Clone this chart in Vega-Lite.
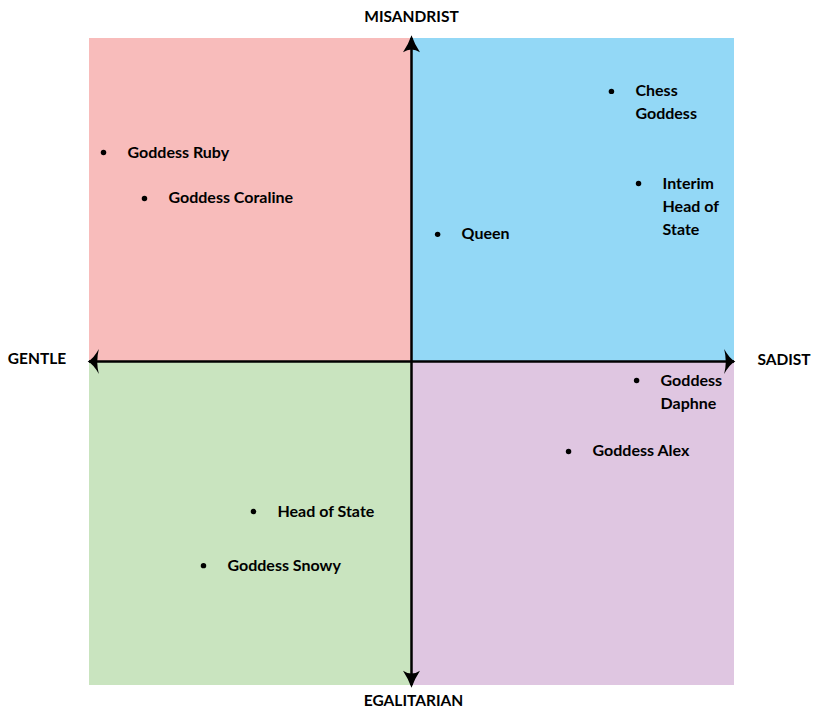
{
  "$schema": "https://vega.github.io/schema/vega-lite/v6.json",
  "width": 645,
  "height": 647,
  "autosize": "none",
  "padding": {"left": 89, "top": 38, "right": 89, "bottom": 32},
  "background": "white",
  "config": {"view": {"stroke": null}},
  "datasets": {
    "quadrants": [
      {"q": "misandrist-gentle", "x": -10, "x2": 0, "y": 0, "y2": 10},
      {"q": "misandrist-sadist", "x": 0, "x2": 10, "y": 0, "y2": 10},
      {"q": "egalitarian-gentle", "x": -10, "x2": 0, "y": -10, "y2": 0},
      {"q": "egalitarian-sadist", "x": 0, "x2": 10, "y": -10, "y2": 0}
    ],
    "axes": [
      {"x": -10, "x2": 10, "y": 0, "y2": 0},
      {"x": 0, "x2": 0, "y": -10, "y2": 10}
    ],
    "arrows": [
      {"dir": "up", "x": 0, "y": 10},
      {"dir": "down", "x": 0, "y": -10},
      {"dir": "left", "x": -10, "y": 0},
      {"dir": "right", "x": 10, "y": 0}
    ],
    "people": [
      {"label": ["Goddess Ruby"], "x": -9.55, "y": 6.46},
      {"label": ["Goddess Coraline"], "x": -8.28, "y": 5.04},
      {"label": ["Queen"], "x": 0.81, "y": 3.93},
      {"label": ["Chess", "Goddess"], "x": 6.2, "y": 8.35},
      {"label": ["Interim", "Head of", "State"], "x": 7.04, "y": 5.5},
      {"label": ["Goddess", "Daphne"], "x": 6.98, "y": -0.59},
      {"label": ["Goddess Alex"], "x": 4.87, "y": -2.78},
      {"label": ["Head of State"], "x": -4.9, "y": -4.64},
      {"label": ["Goddess Snowy"], "x": -6.45, "y": -6.31}
    ]
  },
  "encoding": {},
  "layer": [
    {
      "data": {"name": "quadrants"},
      "mark": {"type": "rect"},
      "encoding": {
        "x": {"field": "x", "type": "quantitative", "scale": {"domain": [-10, 10], "nice": false, "zero": false}, "axis": null},
        "x2": {"field": "x2"},
        "y": {"field": "y", "type": "quantitative", "scale": {"domain": [-10, 10], "nice": false, "zero": false}, "axis": null},
        "y2": {"field": "y2"},
        "color": {
          "field": "q", "type": "nominal", "legend": null,
          "scale": {
            "domain": ["misandrist-gentle", "misandrist-sadist", "egalitarian-gentle", "egalitarian-sadist"],
            "range": ["#F8BCBB", "#93D8F6", "#C9E4BF", "#DFC6E1"]
          }
        }
      }
    },
    {
      "data": {"name": "axes"},
      "mark": {"type": "rule", "color": "black", "strokeWidth": 2.5},
      "encoding": {
        "x": {"field": "x", "type": "quantitative"},
        "x2": {"field": "x2"},
        "y": {"field": "y", "type": "quantitative"},
        "y2": {"field": "y2"}
      }
    },
    {
      "data": {"name": "arrows"},
      "mark": {"type": "point", "filled": true, "color": "black", "opacity": 1, "size": 80},
      "encoding": {
        "x": {"field": "x", "type": "quantitative"},
        "y": {"field": "y", "type": "quantitative"},
        "shape": {
          "field": "dir", "type": "nominal", "legend": null,
          "scale": {
            "domain": ["up", "down", "left", "right"],
            "range": [
              "M0,-0.6 Q0.6,1.2 1.9,3.2 Q0,1.9 -1.9,3.2 Q-0.6,1.2 0,-0.6 Z",
              "M0,0.6 Q0.6,-1.2 1.9,-3.2 Q0,-1.9 -1.9,-3.2 Q-0.6,-1.2 0,0.6 Z",
              "M-0.3,0 Q1,-0.6 2.2,-2.8 Q1.5,0 2.2,2.8 Q1,0.6 -0.3,0 Z",
              "M0.3,0 Q-1,-0.6 -2.2,-2.8 Q-1.5,0 -2.2,2.8 Q-1,0.6 0.3,0 Z"
            ]
          }
        }
      }
    },
    {
      "data": {"name": "people"},
      "mark": {"type": "point", "filled": true, "color": "black", "opacity": 1, "size": 30},
      "encoding": {
        "x": {"field": "x", "type": "quantitative"},
        "y": {"field": "y", "type": "quantitative"}
      }
    },
    {
      "data": {"name": "people"},
      "mark": {"type": "text", "align": "left", "baseline": "alphabetic", "dx": 24, "dy": 5, "font": "Lato", "fontWeight": "bold", "fontSize": 16, "lineHeight": 23, "color": "black"},
      "encoding": {
        "x": {"field": "x", "type": "quantitative"},
        "y": {"field": "y", "type": "quantitative"},
        "text": {"field": "label"}
      }
    },
    {
      "data": {"values": [{"t": "MISANDRIST", "x": 0, "y": 10}]},
      "mark": {"type": "text", "align": "center", "baseline": "middle", "dy": -21, "font": "Lato", "fontWeight": "bold", "fontSize": 15.5, "color": "black"},
      "encoding": {"x": {"field": "x", "type": "quantitative"}, "y": {"field": "y", "type": "quantitative"}, "text": {"field": "t"}}
    },
    {
      "data": {"values": [{"t": "EGALITARIAN", "x": 0, "y": -10}]},
      "mark": {"type": "text", "align": "center", "baseline": "middle", "dx": 2, "dy": 16, "font": "Lato", "fontWeight": "bold", "fontSize": 15.5, "color": "black"},
      "encoding": {"x": {"field": "x", "type": "quantitative"}, "y": {"field": "y", "type": "quantitative"}, "text": {"field": "t"}}
    },
    {
      "data": {"values": [{"t": "GENTLE", "x": -10, "y": 0}]},
      "mark": {"type": "text", "align": "center", "baseline": "middle", "dx": -52, "dy": -3, "font": "Lato", "fontWeight": "bold", "fontSize": 15.5, "color": "black"},
      "encoding": {"x": {"field": "x", "type": "quantitative"}, "y": {"field": "y", "type": "quantitative"}, "text": {"field": "t"}}
    },
    {
      "data": {"values": [{"t": "SADIST", "x": 10, "y": 0}]},
      "mark": {"type": "text", "align": "center", "baseline": "middle", "dx": 50, "dy": -2, "font": "Lato", "fontWeight": "bold", "fontSize": 15.5, "color": "black"},
      "encoding": {"x": {"field": "x", "type": "quantitative"}, "y": {"field": "y", "type": "quantitative"}, "text": {"field": "t"}}
    }
  ]
}
